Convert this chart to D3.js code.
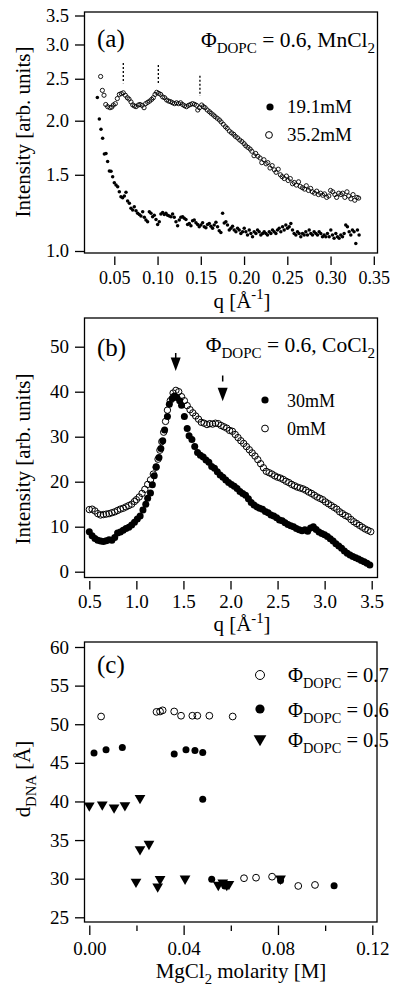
<!DOCTYPE html>
<html><head><meta charset="utf-8">
<script src="https://cdnjs.cloudflare.com/ajax/libs/d3/7.8.5/d3.min.js"></script>
<style>
html,body{margin:0;padding:0;background:#fff;}
svg{display:block;}
</style></head><body>
<svg id="chart" width="400" height="992"></svg>
<script>
// ---------------- DATA ----------------
// Panel (a): q [1/A], Intensity (log axis)
const a_open_352 = [
[0.0342,2.53],[0.0362,2.35],[0.0381,2.29],[0.0401,2.18],[0.0423,2.155],[0.0450,2.143],[0.0470,2.15],[0.0489,2.174],
[0.0512,2.19],[0.0535,2.25],[0.0558,2.30],[0.0581,2.31],[0.0604,2.32],[0.0628,2.29],[0.0651,2.26],[0.0670,2.244],
[0.0693,2.21],[0.0713,2.175],[0.0732,2.163],[0.0751,2.155],[0.0778,2.174],[0.0797,2.18],[0.0821,2.17],[0.0844,2.143],
[0.0863,2.19],[0.0886,2.205],[0.0909,2.22],[0.0932,2.24],[0.0951,2.26],[0.0971,2.30],[0.0990,2.326],[0.1013,2.313],
[0.1036,2.30],[0.1059,2.27],[0.1082,2.26],[0.1105,2.233],[0.1128,2.22],[0.1151,2.213],[0.1174,2.20],[0.1197,2.19],
[0.1220,2.20],[0.1243,2.19],[0.1266,2.20],[0.1289,2.18],[0.1312,2.165],[0.1335,2.155],[0.1358,2.17],[0.1381,2.18],
[0.1404,2.19],[0.1427,2.182],[0.1450,2.17],[0.1465,2.117],[0.1485,2.143],[0.1510,2.174],[0.1530,2.155],[0.1550,2.143],
[0.1575,2.117],[0.1600,2.098],[0.1620,2.08],[0.1645,2.062],[0.1665,2.044],[0.1690,2.026],[0.1715,2.008],[0.1735,1.987],
[0.1760,1.962],[0.1785,1.937],[0.1805,1.92],[0.1830,1.893],[0.1855,1.875],[0.1880,1.86],[0.1900,1.84],[0.1925,1.825],
[0.1950,1.805],[0.1975,1.79],[0.2000,1.77],[0.2020,1.75],[0.2045,1.735],[0.2070,1.72],[0.2090,1.70],[0.2115,1.66],
[0.2135,1.68],[0.2160,1.655],[0.2185,1.64],[0.2205,1.60],[0.2230,1.625],[0.2255,1.59],[0.2275,1.60],[0.2300,1.555],
[0.2325,1.575],[0.2350,1.54],[0.2370,1.52],[0.2395,1.545],[0.2420,1.50],[0.2440,1.485],[0.2465,1.47],[0.2490,1.49],
[0.2510,1.455],[0.2535,1.47],[0.2560,1.43],[0.2580,1.44],[0.2605,1.42],[0.2630,1.445],[0.2650,1.41],[0.2675,1.40],
[0.2700,1.39],[0.2720,1.415],[0.2745,1.38],[0.2770,1.395],[0.2790,1.37],[0.2815,1.36],[0.2840,1.375],[0.2860,1.35],
[0.2885,1.36],[0.2910,1.345],[0.2930,1.355],[0.2955,1.33],[0.2980,1.34],[0.3000,1.38],[0.3025,1.37],[0.3050,1.35],
[0.3070,1.33],[0.3095,1.36],[0.3120,1.35],[0.3140,1.36],[0.3165,1.33],[0.3190,1.37],[0.3210,1.34],[0.3235,1.32],
[0.3260,1.35],[0.3280,1.31],[0.3305,1.33],[0.3325,1.325]
];
const a_filled_191 = [
[0.0304,2.264],[0.0327,2.018],[0.0346,1.910],[0.0365,1.821],[0.0385,1.675],[0.0404,1.680],[0.0423,1.609],[0.0443,1.530],
[0.0462,1.528],[0.0481,1.484],[0.0500,1.438],[0.0520,1.420],[0.0539,1.408],[0.0558,1.371],[0.0577,1.335],[0.0596,1.328],
[0.0616,1.340],[0.0635,1.366],[0.0654,1.305],[0.0674,1.289],[0.0693,1.255],[0.0712,1.244],[0.0731,1.266],[0.0751,1.239],
[0.0770,1.222],[0.0789,1.215],[0.0808,1.205],[0.0828,1.233],[0.0847,1.196],[0.0866,1.179],[0.0885,1.169],[0.0905,1.233],
[0.0924,1.222],[0.0943,1.200],[0.0962,1.209],[0.0982,1.183],[0.1001,1.152],[0.1020,1.169],[0.1039,1.217],[0.1059,1.227],
[0.1078,1.215],[0.1097,1.222],[0.1116,1.209],[0.1136,1.205],[0.1155,1.200],[0.1174,1.217],[0.1193,1.196],[0.1213,1.169],
[0.1232,1.144],[0.1251,1.179],[0.1270,1.196],[0.1290,1.200],[0.1309,1.190],[0.1328,1.183],[0.1347,1.152],[0.1367,1.158],
[0.1386,1.144],[0.1405,1.174],[0.1424,1.179],[0.1444,1.162],[0.1463,1.152],[0.1482,1.138],[0.1501,1.148],[0.1521,1.162],
[0.1540,1.138],[0.1559,1.132],[0.1578,1.152],[0.1598,1.158],[0.1617,1.140],[0.1636,1.128],[0.1655,1.148],[0.1675,1.165],
[0.1694,1.138],[0.1713,1.114],[0.1732,1.104],[0.1752,1.222],[0.1771,1.160],[0.1790,1.169],[0.1809,1.148],[0.1829,1.118],
[0.1848,1.128],[0.1867,1.140],[0.1886,1.118],[0.1906,1.108],[0.1925,1.128],[0.1944,1.118],[0.1963,1.098],[0.1983,1.108],
[0.2002,1.128],[0.2021,1.108],[0.2040,1.089],[0.2060,1.118],[0.2079,1.098],[0.2098,1.079],[0.2117,1.108],[0.2137,1.098],
[0.2156,1.118],[0.2175,1.108],[0.2194,1.089],[0.2214,1.098],[0.2233,1.108],[0.2252,1.098],[0.2271,1.089],[0.2291,1.108],
[0.2310,1.098],[0.2329,1.118],[0.2348,1.108],[0.2368,1.098],[0.2387,1.118],[0.2406,1.128],[0.2425,1.108],[0.2445,1.138],
[0.2464,1.118],[0.2483,1.148],[0.2502,1.128],[0.2522,1.138],[0.2541,1.158],[0.2560,1.118],[0.2579,1.098],[0.2599,1.089],
[0.2618,1.108],[0.2637,1.098],[0.2656,1.079],[0.2676,1.098],[0.2695,1.089],[0.2714,1.108],[0.2733,1.089],[0.2753,1.118],
[0.2772,1.098],[0.2791,1.089],[0.2810,1.108],[0.2830,1.098],[0.2849,1.089],[0.2868,1.108],[0.2887,1.098],[0.2907,1.079],
[0.2926,1.089],[0.2945,1.079],[0.2964,1.098],[0.2984,1.079],[0.3003,1.118],[0.3022,1.089],[0.3041,1.070],[0.3061,1.098],
[0.3080,1.079],[0.3099,1.070],[0.3118,1.089],[0.3138,1.079],[0.3157,1.098],[0.3176,1.148],[0.3195,1.138],[0.3215,1.108],
[0.3234,1.089],[0.3253,1.118],[0.3272,1.108],[0.3292,1.041],[0.3311,1.118],[0.3330,1.089]
];
// dashed peak markers in (a): q, I_top, I_bottom
const a_marks = [[0.0604,2.72,2.44],[0.1009,2.69,2.42],[0.149,2.54,2.28]];
const a_yticks = [1.0,1.5,2.0,2.5,3.0,3.5];
const a_xticks = [0.05,0.10,0.15,0.20,0.25,0.30,0.35];

// Panel (b)
const b_open_0 = [
[0.50,13.8],[0.53,13.9],[0.56,13.5],[0.59,12.9],[0.62,12.6],[0.65,12.7],[0.68,12.8],[0.71,12.9],[0.74,13.1],[0.77,13.3],
[0.80,13.6],[0.83,13.9],[0.86,14.1],[0.89,14.4],[0.92,14.7],[0.95,15.0],[0.98,15.6],[1.00,16.0],[1.03,16.6],[1.06,17.4],
[1.09,18.3],[1.12,19.4],[1.15,20.4],[1.18,21.7],[1.21,23.2],[1.23,25.0],[1.25,27.0],[1.27,28.9],[1.29,31.0],[1.31,33.4],
[1.33,35.9],[1.36,38.0],[1.39,39.7],[1.42,40.3],[1.45,40.0],[1.48,38.9],[1.51,38.0],[1.54,36.9],[1.57,36.0],[1.60,35.3],
[1.63,34.6],[1.66,33.9],[1.69,33.2],[1.72,33.0],[1.75,32.7],[1.78,32.9],[1.81,32.8],[1.84,33.0],[1.87,32.9],[1.90,32.5],
[1.93,32.2],[1.96,31.9],[1.99,31.4],[2.02,31.2],[2.05,30.5],[2.08,29.8],[2.11,29.1],[2.14,28.5],[2.17,27.8],[2.20,27.1],
[2.23,26.4],[2.26,25.7],[2.29,24.9],[2.32,24.0],[2.35,23.1],[2.38,22.3],[2.41,22.0],[2.44,21.7],[2.47,21.3],[2.50,21.0],
[2.53,20.8],[2.56,20.5],[2.59,20.1],[2.62,19.8],[2.65,19.4],[2.68,19.1],[2.71,18.8],[2.74,18.6],[2.77,18.4],[2.80,18.1],
[2.83,17.7],[2.86,17.4],[2.89,17.0],[2.92,16.6],[2.95,16.3],[2.98,16.0],[3.01,15.5],[3.04,15.1],[3.07,14.7],[3.10,14.3],
[3.13,13.9],[3.16,13.3],[3.19,12.9],[3.22,12.5],[3.25,12.2],[3.28,11.6],[3.31,11.1],[3.34,10.7],[3.37,10.3],[3.40,9.9],
[3.43,9.5],[3.46,9.2],[3.49,8.9]
];
const b_filled_30 = [
[0.50,8.9],[0.53,8.0],[0.56,7.4],[0.59,7.0],[0.62,6.8],[0.65,6.7],[0.68,6.9],[0.71,7.1],[0.74,7.0],[0.77,7.6],
[0.80,8.6],[0.83,8.8],[0.86,9.2],[0.89,9.6],[0.92,9.9],[0.95,10.4],[0.98,11.0],[1.01,11.7],[1.04,12.4],[1.07,13.7],
[1.10,15.0],[1.12,16.3],[1.15,17.5],[1.17,19.3],[1.19,21.3],[1.21,23.3],[1.24,25.4],[1.26,27.4],[1.28,29.1],[1.30,31.5],
[1.33,34.5],[1.35,37.2],[1.38,38.5],[1.40,39.0],[1.43,38.7],[1.46,38.0],[1.48,37.0],[1.51,34.5],[1.54,31.8],[1.56,30.2],
[1.59,29.4],[1.62,27.8],[1.65,26.5],[1.68,25.9],[1.71,25.5],[1.74,24.8],[1.77,24.3],[1.80,23.4],[1.83,23.0],[1.86,22.2],
[1.89,21.5],[1.92,21.0],[1.95,20.4],[1.98,19.8],[2.01,19.4],[2.04,19.0],[2.07,18.5],[2.10,17.8],[2.13,17.4],[2.16,17.0],
[2.19,16.2],[2.22,15.4],[2.25,14.8],[2.28,14.4],[2.31,14.1],[2.34,13.9],[2.37,13.4],[2.40,13.1],[2.43,12.6],[2.46,12.4],
[2.49,12.0],[2.52,11.5],[2.55,11.3],[2.58,10.9],[2.61,10.5],[2.64,10.2],[2.67,10.0],[2.70,9.6],[2.73,9.3],[2.76,9.1],
[2.79,9.3],[2.82,9.0],[2.85,9.7],[2.88,10.0],[2.91,9.4],[2.94,8.8],[2.97,8.5],[3.00,8.2],[3.03,7.8],[3.06,7.3],
[3.09,6.8],[3.12,6.2],[3.15,5.7],[3.18,5.2],[3.21,4.6],[3.24,4.1],[3.27,3.7],[3.30,3.4],[3.33,3.1],[3.36,2.8],
[3.39,2.5],[3.42,2.2],[3.45,1.9],[3.48,1.5]
];
// arrows in (b): q, top value, tip value, dashed
const b_arrows = [[1.418,48.6,44.6,false],[1.917,43.6,37.9,true]];
const b_yticks = [0,10,20,30,40,50];
const b_xticks = [0.5,1.0,1.5,2.0,2.5,3.0,3.5];

// Panel (c): MgCl2 molarity [M], d_DNA [A]
const c_phi07 = [[0.0050,51.0],[0.0285,51.6],[0.0300,51.65],[0.0311,51.8],[0.0360,51.65],[0.0389,51.1],[0.0437,51.1],
[0.0458,51.1],[0.0509,51.1],[0.0608,51.0],[0.0656,30.06],[0.0707,30.13],[0.0775,30.26],[0.0886,29.06],[0.0957,29.19]];
const c_phi06 = [[0.0020,46.26],[0.0071,46.69],[0.0140,46.99],[0.0360,46.13],[0.0410,46.69],[0.0448,46.6],[0.0481,46.34],
[0.0481,40.3],[0.0519,29.93],[0.0575,29.06],[0.0811,29.75],[0.1038,29.1]];
const c_phi05 = [[0.0000,39.47],[0.0055,39.6],[0.0105,39.2],[0.0151,39.5],[0.0215,40.43],[0.0215,33.8],[0.0253,34.5],
[0.0198,29.6],[0.0290,28.97],[0.0300,29.93],[0.0406,30.0],[0.0547,29.19],[0.0566,29.49],[0.0583,29.19],[0.0592,29.3],[0.0811,30.0]];
const c_yticks = [25,30,35,40,45,50,55,60];
const c_xticks_major = [0.00,0.04,0.08,0.12];
const c_xticks_minor = [0.02,0.06,0.10];

// ---------------- DRAWING ----------------
const FONT = "'Liberation Serif','Times New Roman',Times,serif";
const svg = d3.select("#chart").attr("font-family", FONT);
svg.append("rect").attr("width",400).attr("height",992).attr("fill","#fff");

const PA = {l:84.5, r:377.5, t:12, b:253};
const PB = {l:84.5, r:377.5, t:318, b:577.5};
const PC = {l:84.5, r:377, t:642, b:922};

const xA = d3.scaleLinear().domain([0.05,0.35]).range([114.3,373.8]);
const yA = d3.scaleLog().domain([1,3.5]).range([251,15.5]);
const xB = d3.scaleLinear().domain([0.5,3.5]).range([89.3,371.7]);
const yB = d3.scaleLinear().domain([0,50]).range([571.7,346.7]);
const xC = d3.scaleLinear().domain([0,0.12]).range([89.3,372.3]);
const yC = d3.scaleLinear().domain([25,60]).range([917.3,647]);

function frame(p){
  svg.append("rect").attr("x",p.l).attr("y",p.t).attr("width",p.r-p.l).attr("height",p.b-p.t)
    .attr("fill","none").attr("stroke","#000").attr("stroke-width",1.3);
}
function styleAxis(g, fs){
  g.attr("font-family",FONT).attr("font-size",fs);
  g.select(".domain").remove();
  g.selectAll(".tick line").attr("stroke","#000").attr("stroke-width",1.3);
  g.selectAll(".tick text").attr("fill","#000");
}
function yAxis(p, y, ticks, fmt, fs){
  const g = svg.append("g").attr("transform",`translate(${p.l},0)`)
    .call(d3.axisLeft(y).tickValues(ticks).tickFormat(fmt).tickSize(9.5).tickPadding(6));
  styleAxis(g, fs);
}
function xAxis(p, x, ticks, fmt, fs, size, pad){
  const g = svg.append("g").attr("transform",`translate(0,${p.b+3.5})`)
    .call(d3.axisBottom(x).tickValues(ticks).tickFormat(fmt).tickSize(size).tickPadding(pad));
  styleAxis(g, fs);
  return g;
}
function titleText(x, y, parts, fs, anchor, rotate){
  const t = svg.append("text").attr("x",x).attr("y",y).attr("font-size",fs)
    .attr("text-anchor",anchor||"start").attr("fill","#000");
  if (rotate) t.attr("transform",`rotate(-90,${x},${y})`);
  let cur = 0;
  parts.forEach(p=>{
    const off = p.sub ? 0.3*fs : (p.sup ? -0.4*fs : 0);
    t.append("tspan").attr("dy", off-cur).attr("font-size", (p.sub||p.sup)? fs*0.7 : fs).text(p.s);
    cur = off;
  });
  return t;
}

// ---------- Panel (a) ----------
frame(PA);
yAxis(PA, yA, a_yticks, d3.format(".1f"), 18.5);
xAxis(PA, xA, a_xticks, d3.format(".2f"), 18, 8.5, 6);
svg.append("g").selectAll("line").data(a_marks).join("line")
  .attr("x1",d=>xA(d[0])).attr("x2",d=>xA(d[0])).attr("y1",d=>yA(d[1])).attr("y2",d=>yA(d[2]))
  .attr("stroke","#000").attr("stroke-width",1.3).attr("stroke-dasharray","2,2");
svg.append("g").selectAll("circle").data(a_open_352).join("circle")
  .attr("cx",d=>xA(d[0])).attr("cy",d=>yA(d[1])).attr("r",2.1)
  .attr("fill","none").attr("stroke","#000").attr("stroke-width",0.9);
svg.append("g").selectAll("circle").data(a_filled_191).join("circle")
  .attr("cx",d=>xA(d[0])).attr("cy",d=>yA(d[1])).attr("r",1.75).attr("fill","#000");
titleText(97, 47, [{s:"(a)"}], 25);
titleText(375, 46.5, [{s:"Φ"},{s:"DOPC",sub:true},{s:" = 0.6, MnCl"},{s:"2",sub:true}], 21.5, "end");
svg.append("circle").attr("cx",270).attr("cy",107).attr("r",3.6).attr("fill","#000");
svg.append("circle").attr("cx",269).attr("cy",135).attr("r",3.4).attr("fill","none").attr("stroke","#000").attr("stroke-width",1);
titleText(287, 113, [{s:"19.1mM"}], 19);
titleText(287, 141, [{s:"35.2mM"}], 19);
titleText(30, 132, [{s:"Intensity [arb. units]"}], 21, "middle", true);
titleText(242, 307.5, [{s:"q [Å"},{s:"-1",sup:true},{s:"]"}], 21, "middle");

// ---------- Panel (b) ----------
frame(PB);
yAxis(PB, yB, b_yticks, d3.format("d"), 19);
xAxis(PB, xB, b_xticks, d3.format(".1f"), 19, 8.5, 5);
svg.append("g").selectAll("circle").data(b_open_0).join("circle")
  .attr("cx",d=>xB(d[0])).attr("cy",d=>yB(d[1])).attr("r",3.2)
  .attr("fill","none").attr("stroke","#000").attr("stroke-width",1);
svg.append("g").selectAll("circle").data(b_filled_30).join("circle")
  .attr("cx",d=>xB(d[0])).attr("cy",d=>yB(d[1])).attr("r",3.5).attr("fill","#000");
b_arrows.forEach(a=>{
  const x = xB(a[0]), yt = yB(a[1]), yTip = yB(a[2]), headL = 13.5, hw = 5;
  if (a[3]) {
    svg.append("line").attr("x1",x).attr("x2",x).attr("y1",yt).attr("y2",yt+6).attr("stroke","#000").attr("stroke-width",1.5);
  } else {
    svg.append("line").attr("x1",x).attr("x2",x).attr("y1",yt).attr("y2",yTip-headL+1).attr("stroke","#000").attr("stroke-width",1.5);
  }
  svg.append("path").attr("d",`M${x-hw},${yTip-headL}L${x+hw},${yTip-headL}L${x},${yTip}Z`).attr("fill","#000");
});
titleText(97, 356, [{s:"(b)"}], 25);
titleText(375, 351.5, [{s:"Φ"},{s:"DOPC",sub:true},{s:" = 0.6, CoCl"},{s:"2",sub:true}], 21.5, "end");
svg.append("circle").attr("cx",265).attr("cy",400).attr("r",3.6).attr("fill","#000");
svg.append("circle").attr("cx",265).attr("cy",428.5).attr("r",3.4).attr("fill","none").attr("stroke","#000").attr("stroke-width",1);
titleText(287, 406.5, [{s:"30mM"}], 18);
titleText(287, 435, [{s:"0mM"}], 18);
titleText(30, 459, [{s:"Intensity [arb. units]"}], 21, "middle", true);
titleText(242, 631, [{s:"q [Å"},{s:"-1",sup:true},{s:"]"}], 21, "middle");

// ---------- Panel (c) ----------
frame(PC);
yAxis(PC, yC, c_yticks, d3.format("d"), 19);
xAxis(PC, xC, c_xticks_major, d3.format(".2f"), 19, 9.5, 6.5);
{
  const g = svg.append("g").attr("transform",`translate(0,${PC.b+3.5})`)
    .call(d3.axisBottom(xC).tickValues(c_xticks_minor).tickFormat("").tickSize(5.5));
  styleAxis(g, 19);
  g.selectAll(".tick text").remove();
}
svg.append("g").selectAll("circle").data(c_phi07).join("circle")
  .attr("cx",d=>xC(d[0])).attr("cy",d=>yC(d[1])).attr("r",3.4)
  .attr("fill","none").attr("stroke","#000").attr("stroke-width",1);
svg.append("g").selectAll("circle").data(c_phi06).join("circle")
  .attr("cx",d=>xC(d[0])).attr("cy",d=>yC(d[1])).attr("r",3.5).attr("fill","#000");
const tri = d3.symbol(d3.symbolTriangle).size(50);
svg.append("g").selectAll("path").data(c_phi05).join("path")
  .attr("d",tri).attr("transform",d=>`translate(${xC(d[0])},${yC(d[1])}) rotate(180)`).attr("fill","#000");
titleText(97, 673, [{s:"(c)"}], 25);
svg.append("circle").attr("cx",260).attr("cy",675).attr("r",4.5).attr("fill","none").attr("stroke","#000").attr("stroke-width",1);
svg.append("circle").attr("cx",260).attr("cy",709).attr("r",4.6).attr("fill","#000");
svg.append("path").attr("d",d3.symbol(d3.symbolTriangle).size(70)).attr("transform","translate(260,739) rotate(180)").attr("fill","#000");
titleText(288, 681.5, [{s:"Φ"},{s:"DOPC",sub:true},{s:" = 0.7"}], 20.5);
titleText(288, 716.5, [{s:"Φ"},{s:"DOPC",sub:true},{s:" = 0.6"}], 20.5);
titleText(288, 746.5, [{s:"Φ"},{s:"DOPC",sub:true},{s:" = 0.5"}], 20.5);
titleText(30, 779, [{s:"d"},{s:"DNA",sub:true},{s:" [Å]"}], 21, "middle", true);
titleText(241, 978, [{s:"MgCl"},{s:"2",sub:true},{s:" molarity [M]"}], 21, "middle");
</script>
</body></html>
